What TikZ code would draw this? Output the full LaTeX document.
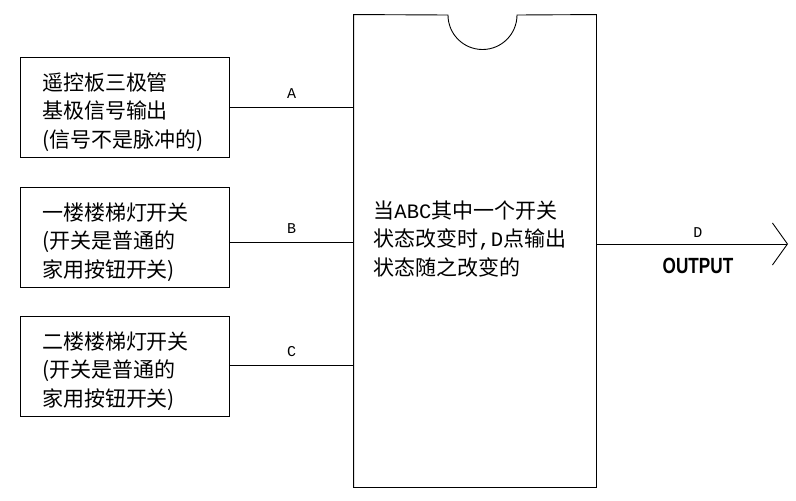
\documentclass[tikz,border=0pt]{standalone}
\usepackage{fontspec}
\usepackage{graphicx}
\setmainfont{Noto Sans CJK SC}
\newfontfamily\outfont{Liberation Sans}
\newfontfamily\halfwidth{Liberation Mono}
\usetikzlibrary{arrows.meta}
\tikzset{
    box/.style={draw, rectangle, minimum height=100pt, text width=165pt, inner xsep=22pt, align=left, font=\fontsize{21}{28.5}\selectfont, execute at begin node={\rule{0pt}{28pt}}},
    pin/.style={font=\halfwidth\fontsize{15}{16}\selectfont, inner sep=1pt},
    outtext/.style={font=\outfont\bfseries\fontsize{22}{24}\selectfont, inner sep=1pt}
}

\begin{document}
\begin{tikzpicture}[x=1pt, y=-1pt, line width=0.9pt]
    \useasboundingbox (0,0) rectangle (796,501);

    \node[minimum width=242pt, minimum height=472pt, inner sep=0pt] (chip) at (475,251) {};
    \coordinate (notch) at (482.5,15);
    \draw (chip.north west) -- ([xshift=-34.5pt]notch) arc[start angle=180, end angle=360, radius=34.5pt] -- (chip.north east) -- (chip.south east) -- (chip.south west) -- cycle;
    \node[anchor=west, align=left, inner sep=0pt, font=\fontsize{21}{28.5}\selectfont] (logic) at (373,239) {当{\halfwidth\fontsize{20.5}{28.5}\selectfont ABC}其中一个开关\\状态改变时{\halfwidth\fontsize{20.5}{28.5}\selectfont ,D}点输出\\状态随之改变的};

    \node[box] (inA) at (124.5,107) {遥控板三极管\\基极信号输出\\(信号不是脉冲的)};
    \node[box] (inB) at (124.5,237) {一楼楼梯灯开关\\(开关是普通的\\家用按钮开关)};
    \node[box] (inC) at (124.5,366) {二楼楼梯灯开关\\(开关是普通的\\家用按钮开关)};

    \coordinate (a) at (inA.east);
    \coordinate (b) at ([yshift=-5pt]inB.east);
    \coordinate (c) at ([yshift=1pt]inC.east);
    \draw (a) -- node[pin, above=7pt] {A} (a -| chip.west);
    \draw (b) -- node[pin, above=7pt] {B} (b -| chip.west);
    \draw (c) -- node[pin, above=7pt] {C} (c -| chip.west);

    \coordinate (d) at ([yshift=7pt]chip.east);
    \coordinate (tip) at (788,244);
    \draw[-{Straight Barb[length=15pt, width=42pt]}] (d) -- node[pin, above=5pt, pos=0.53] {D} node[outtext, below=13pt, pos=0.53] {\scalebox{0.78}[1]{OUTPUT}} (tip);
\end{tikzpicture}
\end{document}
